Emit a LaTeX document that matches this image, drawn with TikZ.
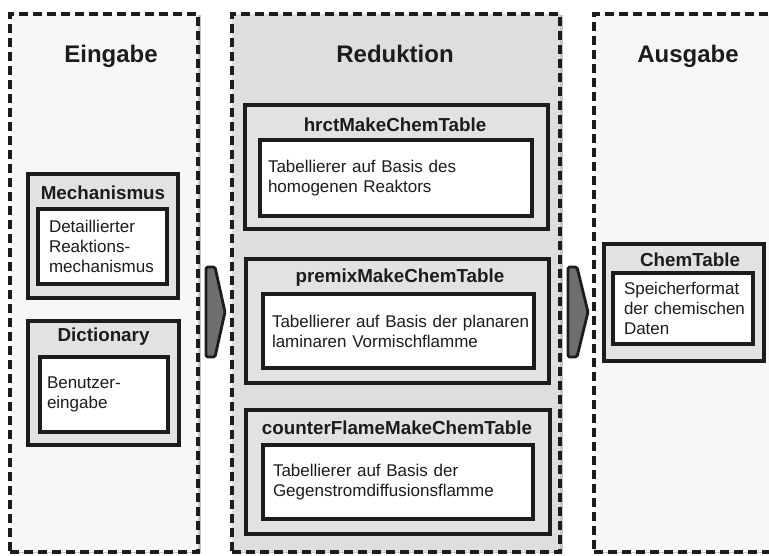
\documentclass[tikz,border=0pt]{standalone}
\usepackage{fontspec}
\setmainfont{Liberation Sans}
\usetikzlibrary{positioning}
\definecolor{panellight}{HTML}{F7F7F7}
\definecolor{paneldark}{HTML}{DDDEE0}
\definecolor{boxfill}{HTML}{E1E2E4}
\definecolor{inkline}{HTML}{1C1C1C}
\definecolor{arrowfill}{HTML}{6E6E6E}
\definecolor{shadowgray}{HTML}{C4C4C4}
\tikzset{
  x=1pt, y=-1pt,
  panel/.style={draw=inkline, line width=3.2pt, dash pattern=on 9pt off 5pt,
    rectangle, inner sep=0pt},
  panelshadow/.style={fill=shadowgray, rectangle, inner sep=0pt},
  paneltitle/.style={font=\fontsize{24}{28}\selectfont\bfseries, text=inkline, anchor=base},
  outerbox/.style={draw=inkline, line width=3.4pt, fill=boxfill, rectangle, inner sep=0pt},
  innerbox/.style={draw=inkline, line width=3.4pt, fill=white, rectangle,
    inner sep=0pt, align=left, font=\fontsize{17}{20}\selectfont, text=inkline,
    execute at begin node={\hyphenpenalty=10000\exhyphenpenalty=10000\relax}},
  boxtitle/.style={font=\fontsize{18.8}{22}\selectfont\bfseries, text=inkline},
  flowarrow/.style={draw=inkline, line width=2.8pt, fill=arrowfill, line join=round, rounded corners=1.5pt},
}
\begin{document}
\begin{tikzpicture}
\useasboundingbox (0,0) rectangle (769,555);
\begin{scope}
\clip (0,0) rectangle (769,555);

% ---- column shadows ----
\node[panelshadow, minimum width=188pt, minimum height=538pt] at (107,284) {};
\node[panelshadow, minimum width=328pt, minimum height=538pt] at (399,284) {};
\node[panelshadow, minimum width=196pt, minimum height=538pt] at (695,284) {};

% ---- columns ----
\node[panel, fill=panellight, minimum width=188pt, minimum height=538pt] (ein) at (104,283) {};
\node[panel, fill=paneldark,  minimum width=328pt, minimum height=538pt] (red) at (396,283) {};
\node[panel, fill=panellight, minimum width=196pt, minimum height=538pt] (aus) at (692,283) {};

\node[paneltitle] (einT) at (111,62) {Eingabe};
\node[paneltitle] (redT) at (395,62) {Reduktion};
\node[paneltitle] (ausT) at (688,62) {Ausgabe};

% ---- Eingabe ----
\node[outerbox, minimum width=150pt, minimum height=124pt] (mech) at (103,236) {};
\node[boxtitle] (mechT) at (103,193) {Mechanismus};
\node[innerbox, minimum width=129pt, minimum height=75pt, text width=107pt] (mechI) at (102.5,246.5)
  {Detaillierter\\Reaktions-\\mechanismus};

\node[outerbox, minimum width=151pt, minimum height=124pt] (dict) at (103.5,383) {};
\node[boxtitle] (dictT) at (103.5,337) {Dictionary};
\node[innerbox, minimum width=128pt, minimum height=75pt, text width=114pt] (dictI) at (104,394.5)
  {Benutzer-\\eingabe};

% ---- Reduktion ----
\node[outerbox, minimum width=303pt, minimum height=124pt] (hrct) at (396.5,167) {};
\node[boxtitle] (hrctT) at (395,125) {hrctMakeChemTable};
\node[innerbox, minimum width=272pt, minimum height=76pt, text width=256pt] (hrctI) at (396,178)
  {Tabellierer auf Basis des\\homogenen Reaktors};

\node[outerbox, minimum width=303pt, minimum height=124pt] (prem) at (397.5,321) {};
\node[boxtitle] (premT) at (400,278) {premixMakeChemTable};
\node[innerbox, minimum width=271pt, minimum height=74pt, text width=253pt] (premI) at (398.5,331)
  {\mbox{Tabellierer auf Basis der planaren}\\laminaren Vormischflamme};

\node[outerbox, minimum width=304pt, minimum height=124pt] (cntr) at (398,472) {};
\node[boxtitle] (cntrT) at (397,428) {counterFlameMakeChemTable};
\node[innerbox, minimum width=270pt, minimum height=74pt, text width=250pt] (cntrI) at (398,482)
  {Tabellierer auf Basis der\\Gegenstromdiffusionsflamme};

% ---- Ausgabe ----
\node[outerbox, minimum width=160pt, minimum height=117pt] (chem) at (684,302.5) {};
\node[boxtitle] (chemT) at (690,260) {ChemTable};
\node[innerbox, minimum width=140pt, minimum height=71pt, text width=118pt] (chemI) at (683,308.5)
  {\mbox{Speicherformat}\\\mbox{der chemischen}\\Daten};

% ---- flow arrows between the columns ----
\draw[flowarrow] (206,267) -- (215,267) -- (225,312) -- (215,357) -- (206,357) -- cycle;
\draw[flowarrow] (568,267) -- (577,267) -- (588,312) -- (577,357) -- (568,357) -- cycle;
\end{scope}
\end{tikzpicture}
\end{document}
